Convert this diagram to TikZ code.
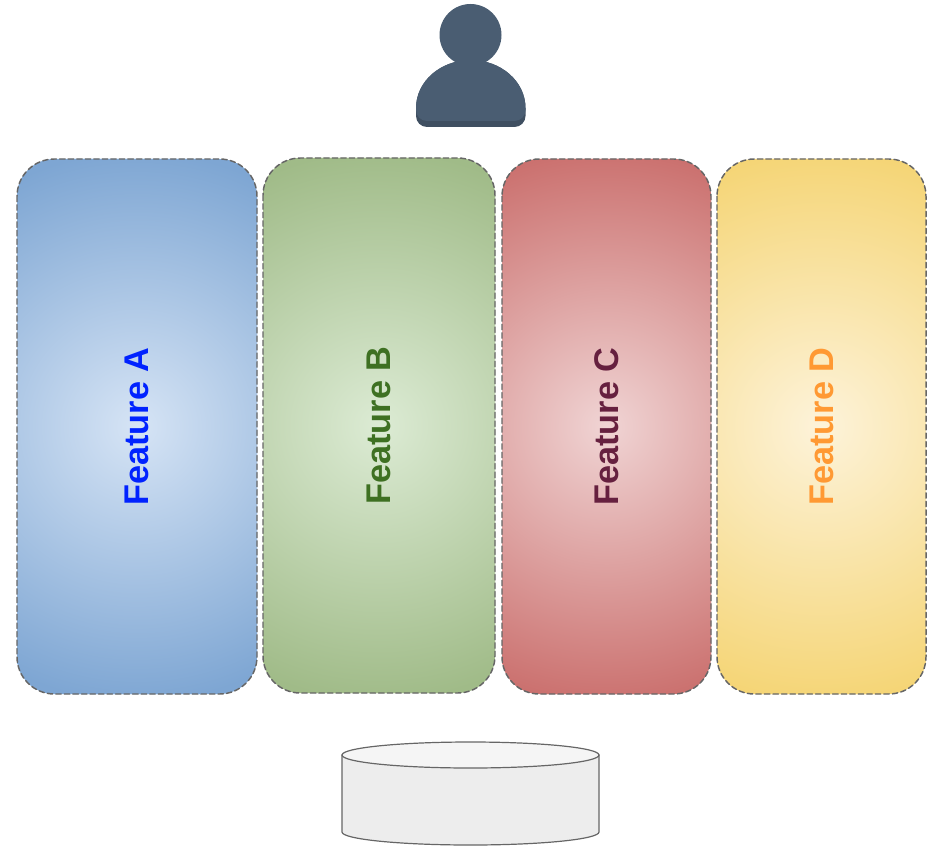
\documentclass[tikz,border=0pt]{standalone}
\usepackage{fontspec}
\setmainfont{Liberation Sans}
\definecolor{blueIn}{HTML}{D6E4F5}
\definecolor{blueOut}{HTML}{7EA6D3}
\definecolor{greenIn}{HTML}{DCEBD4}
\definecolor{greenOut}{HTML}{A0BB88}
\definecolor{redIn}{HTML}{F0D4D4}
\definecolor{redOut}{HTML}{CB716F}
\definecolor{yellowIn}{HTML}{FDF3DA}
\definecolor{yellowOut}{HTML}{F5D576}
\definecolor{personCol}{HTML}{4A5D72}
\definecolor{personDark}{HTML}{3F4F61}
\definecolor{textA}{HTML}{0022FF}
\definecolor{textB}{HTML}{3E7022}
\definecolor{textC}{HTML}{66203F}
\definecolor{textD}{HTML}{FF9933}
\pgfdeclareradialshading{blueGlow}{\pgfpoint{0bp}{0bp}}{color(0bp)=(blueIn); color(25bp)=(blueOut); color(50bp)=(blueOut)}
\pgfdeclareradialshading{greenGlow}{\pgfpoint{0bp}{0bp}}{color(0bp)=(greenIn); color(25bp)=(greenOut); color(50bp)=(greenOut)}
\pgfdeclareradialshading{redGlow}{\pgfpoint{0bp}{0bp}}{color(0bp)=(redIn); color(25bp)=(redOut); color(50bp)=(redOut)}
\pgfdeclareradialshading{yellowGlow}{\pgfpoint{0bp}{0bp}}{color(0bp)=(yellowIn); color(25bp)=(yellowOut); color(50bp)=(yellowOut)}
\tikzset{
	featurebox/.style n args={3}{draw=black!60, line width=1.1pt, dash pattern=on 4pt off 2.4pt,
		rounded corners=28pt, minimum width=535*0.75pt,
		inner sep=0pt, rotate=90, text=#3, font=\fontsize{25.7}{30}\selectfont\bfseries,
		path picture={
			\fill[#1] (path picture bounding box.south west) rectangle (path picture bounding box.north east);
			\shade[shading=#2] (path picture bounding box.center) circle (275*0.75pt);
		}},
	drumline/.style={draw=black!60, line width=0.9pt},
}
\begin{document}
\begin{tikzpicture}[x=0.75pt,y=-0.75pt,line join=round,line cap=round]
	\useasboundingbox (0,0) rectangle (944,852);
	% person
	\fill[personDark] (416,108) arc (180:360:54.75 and 48) -- (525.5,116) arc (0:90:11) -- (427,127) arc (90:180:11) -- cycle;
	\fill[personCol] (416,108) arc (180:360:54.75 and 48) -- (525.5,110) arc (0:90:11) -- (427,121) arc (90:180:11) -- cycle;
	\fill[personCol] (470.5,35) circle (31*0.75pt);
	% features
	\node[featurebox={blueOut}{blueGlow}{textA}, minimum height=240*0.75pt] (featA) at (137,426.5) {Feature A};
	\node[featurebox={greenOut}{greenGlow}{textB}, minimum height=232*0.75pt] (featB) at (379,425.5) {Feature B};
	\node[featurebox={redOut}{redGlow}{textC}, minimum height=209*0.75pt] (featC) at (606.5,426.5) {Feature C};
	\node[featurebox={yellowOut}{yellowGlow}{textD}, minimum height=209*0.75pt] (featD) at (821.5,426.5) {Feature D};
	% storage
	\draw[drumline, fill=black!7] (342,755) -- (342,832) arc (180:0:128.5 and 13) -- (599,755) -- cycle;
	\draw[drumline, fill=black!4] (470.5,755) ellipse (128.5 and 13);
\end{tikzpicture}
\end{document}
